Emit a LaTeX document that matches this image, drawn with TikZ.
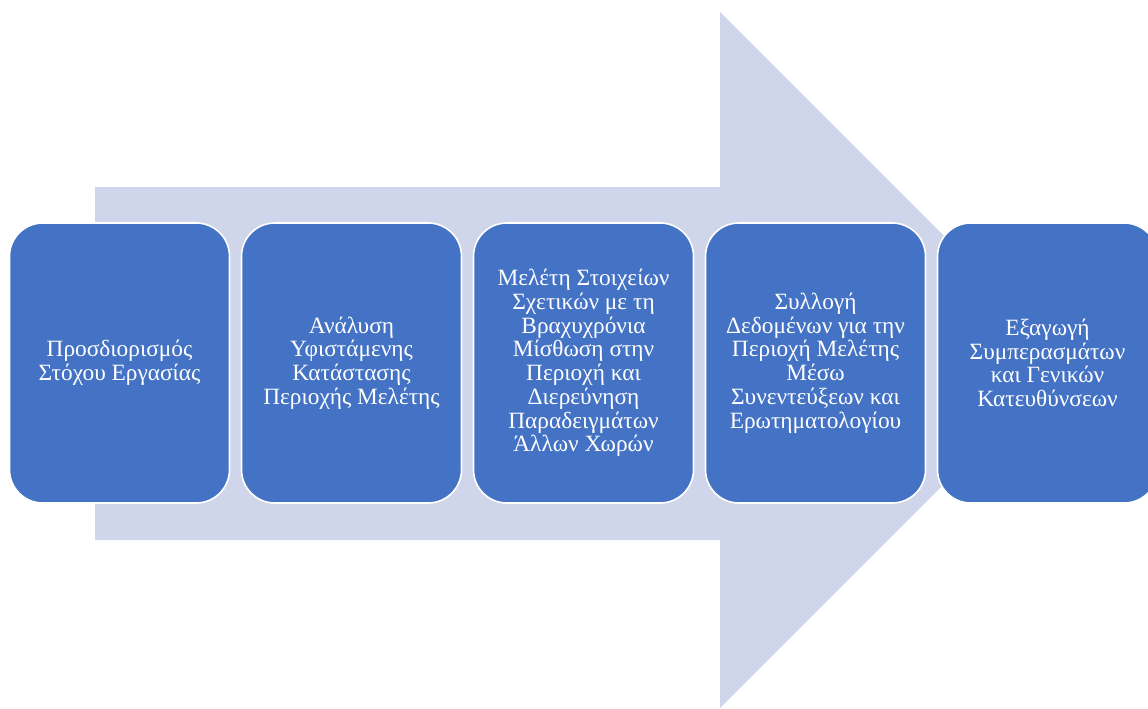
\documentclass[tikz,border=0pt]{standalone}
\usepackage{fontspec}
\setmainfont{Liberation Serif}
\usetikzlibrary{positioning}

\definecolor{arrowfill}{HTML}{CFD5EA}
\definecolor{stepblue}{HTML}{4472C4}

\begin{document}
\begin{tikzpicture}[
  x=0.75pt, y=-0.75pt,
  node distance=9pt,
  stage/.style={draw=white, fill=stepblue, line width=1.2pt, outer sep=0pt,
    rounded corners=25pt, minimum width=165pt, minimum height=210pt,
    align=center, text=white, font=\fontsize{17.5}{17.8}\selectfont}
]
\useasboundingbox (0,0) rectangle (1148,708);
\clip (0,0) rectangle (1148,708);

% background arrow
\fill[arrowfill] (95,187) -- (720,187) -- (720,12) -- (1068,360)
  -- (720,708) -- (720,540) -- (95,540) -- cycle;

\node[stage] (goal) at (119.5,363) {Προσδιορισμός\\Στόχου Εργασίας};
\node[stage, right=of goal] (current) {Ανάλυση\\Υφιστάμενης\\Κατάστασης\\Περιοχής Μελέτης};
\node[stage, right=of current] (rental) {Μελέτη Στοιχείων\\Σχετικών με τη\\Βραχυχρόνια\\Μίσθωση στην\\Περιοχή και\\Διερεύνηση\\Παραδειγμάτων\\Άλλων Χωρών};
\node[stage, right=of rental] (data) {Συλλογή\\Δεδομένων για την\\Περιοχή Μελέτης\\Μέσω\\Συνεντεύξεων και\\Ερωτηματολογίου};
\node[stage, right=of data] (result) {Εξαγωγή\\Συμπερασμάτων\\και Γενικών\\Κατευθύνσεων};

\end{tikzpicture}
\end{document}
